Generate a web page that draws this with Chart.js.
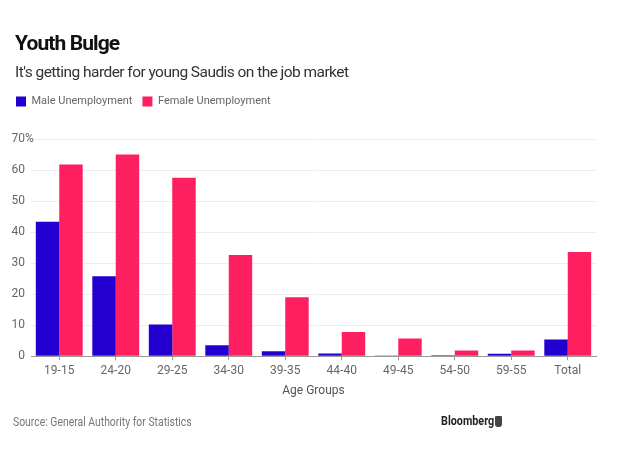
<!DOCTYPE html>
<html>
<head>
<meta charset="utf-8">
<script src="https://cdn.jsdelivr.net/npm/chart.js@4"></script>
<style>
  html, body { margin: 0; padding: 0; background: #fff; }
  #wrap { position: relative; width: 630px; height: 464px; overflow: hidden; font-family: Roboto, "Liberation Sans", sans-serif; }
  #c { position: absolute; left: 0; top: 0; }
  .t { position: absolute; white-space: nowrap; transform-origin: left center; }
  #title { left: 15px; top: 31px; font-size: 21px; font-weight: bold; color: #111; letter-spacing: -0.9px; }
  #sub { left: 15px; top: 63px; font-size: 15.5px; color: #333; letter-spacing: -0.55px; }
  #src { left: 13px; top: 414px; font-size: 13px; color: #777; transform: scaleX(0.8); }
  #bb { left: 441px; top: 413px; font-size: 13px; font-weight: bold; color: #222; transform: scaleX(0.83); }
  #logo { position: absolute; left: 495px; top: 416px; width: 7px; height: 11px; background: #444; border-radius: 1px 1px 3px 3px; }
</style>
</head>
<body>
<div id="wrap">
  <canvas id="c" width="630" height="464"></canvas>
  <div class="t" id="title">Youth Bulge</div>
  <div class="t" id="sub">It's getting harder for young Saudis on the job market</div>
  <div class="t" id="src">Source: General Authority for Statistics</div>
  <div class="t" id="bb">Bloomberg</div>
  <div id="logo"></div>
</div>
<script>
const categories = ["19-15", "24-20", "29-25", "34-30", "39-35", "44-40", "49-45", "54-50", "59-55", "Total"];
const maleUnemployment = [43.3, 25.8, 10.2, 3.5, 1.6, 0.9, 0.2, 0.3, 0.8, 5.4];
const femaleUnemployment = [61.8, 65.0, 57.5, 32.6, 19.0, 7.8, 5.7, 1.8, 1.8, 33.6];
const yTicks = [0, 10, 20, 30, 40, 50, 60, 70];
const seriesNames = ["Male Unemployment", "Female Unemployment"];
const xTitle = "Age Groups";

const FONT = "Roboto, 'Liberation Sans', sans-serif";

const percentPlugin = {
  id: 'percentSuffix',
  afterDraw(chart) {
    const y = chart.scales.y;
    const ctx = chart.ctx;
    ctx.save();
    ctx.font = "12px " + FONT;
    ctx.fillStyle = "#666";
    ctx.textAlign = "left";
    ctx.textBaseline = "middle";
    const top = yTicks[yTicks.length - 1];
    ctx.fillText("%", 25, y.getPixelForValue(top));
    ctx.restore();
  }
};

const legendGap = {
  id: 'legendGap',
  beforeInit(chart) {
    const lg = chart.legend;
    if (!lg) return;
    const orig = lg.fit;
    lg.fit = function () { orig.call(this); this.height += 22; };
  }
};

new Chart(document.getElementById('c'), {
  type: 'bar',
  data: {
    labels: categories,
    datasets: [
      { label: seriesNames[0], data: maleUnemployment, backgroundColor: '#2300d0', borderWidth: 0 },
      { label: seriesNames[1], data: femaleUnemployment, backgroundColor: '#fd1f5f', borderWidth: 0 }
    ]
  },
  options: {
    responsive: false,
    animation: false,
    devicePixelRatio: 1,
    layout: { padding: { left: 6, right: 34, top: 86, bottom: 66 } },
    datasets: { bar: { categoryPercentage: 0.83, barPercentage: 1.0 } },
    plugins: {
      legend: {
        display: true,
        position: 'top',
        align: 'start',
        labels: {
          boxWidth: 10, boxHeight: 10, padding: 10,
          color: '#666',
          font: { family: FONT, size: 11 }
        }
      },
      title: { display: false },
      tooltip: { enabled: false }
    },
    scales: {
      x: {
        type: 'category',
        offset: true,
        grid: { display: true, drawOnChartArea: false, offset: false, drawTicks: true, tickLength: 4, color: '#999' },
        border: { display: true, color: '#999', width: 1 },
        ticks: { color: '#666', font: { family: FONT, size: 12 }, padding: 4, maxRotation: 0, autoSkip: false },
        title: { display: true, text: xTitle, color: '#555', font: { family: FONT, size: 12 }, padding: { top: 1, bottom: 0 } }
      },
      y: {
        min: 0, max: 70,
        afterFit(s) { s.width = 25; },
        afterBuildTicks(s) { s.ticks = yTicks.map(v => ({ value: v })); },
        grid: { color: '#eee', drawTicks: false, lineWidth: 1 },
        border: { display: false },
        ticks: { color: '#666', font: { family: FONT, size: 12 }, padding: 6, callback: v => String(v) }
      }
    }
  },
  plugins: [legendGap, percentPlugin]
});
</script>
</body>
</html>
